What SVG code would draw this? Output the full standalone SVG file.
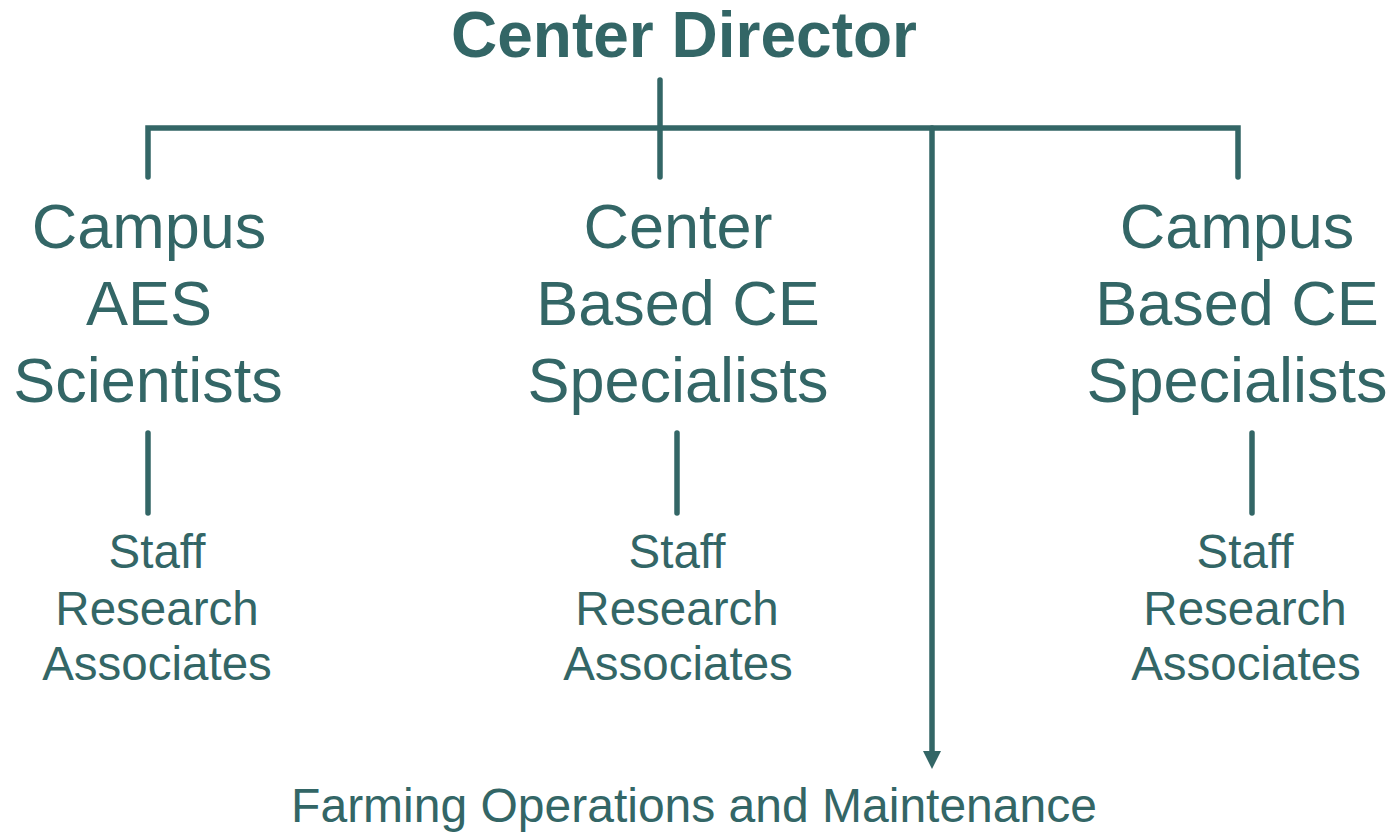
<svg xmlns="http://www.w3.org/2000/svg" width="1397" height="835" viewBox="0 0 1397 835">
<defs>
<style>
.t{font-family:"Liberation Sans",Arial,sans-serif;fill:#336666;text-anchor:middle}
.title{font-size:64px;font-weight:bold}
.big{font-size:63px}
.small{font-size:47.5px}
.foot{font-size:48px}
.ln{stroke:#336666;stroke-width:5.5;fill:none;stroke-linecap:round;stroke-linejoin:miter}
</style>
<marker id="ah" markerUnits="userSpaceOnUse" markerWidth="20" markerHeight="20" viewBox="0 0 20 20" refX="0" refY="10" orient="auto">
<path d="M0,1 L18,10 L0,19 Z" fill="#336666"/>
</marker>
</defs>
<rect width="1397" height="835" fill="#ffffff"/>
<g id="connectors">
<path class="ln" d="M660,80 V177"/>
<path class="ln" d="M148,177 V128 H1238 V177"/>
<path class="ln" d="M932,128 V751" stroke-linecap="butt" marker-end="url(#ah)"/>
<path class="ln" d="M148,433 V513"/>
<path class="ln" d="M677,433 V513"/>
<path class="ln" d="M1252,433 V513"/>
</g>
<g id="center-director"><text class="t title" x="684" y="57">Center Director</text></g>
<g id="campus-aes">
<text class="t big" x="149" y="248">Campus</text>
<text class="t big" x="149" y="325">AES</text>
<text class="t big" x="148" y="402">Scientists</text>
</g>
<g id="center-ce">
<text class="t big" x="678" y="248">Center</text>
<text class="t big" x="678" y="325">Based CE</text>
<text class="t big" x="678" y="402">Specialists</text>
</g>
<g id="campus-ce">
<text class="t big" x="1237" y="248">Campus</text>
<text class="t big" x="1237" y="325">Based CE</text>
<text class="t big" x="1237" y="402">Specialists</text>
</g>
<g id="staff-1">
<text class="t small" x="157" y="568">Staff</text>
<text class="t small" x="157" y="625">Research</text>
<text class="t small" x="157" y="680">Associates</text>
</g>
<g id="staff-2">
<text class="t small" x="677" y="568">Staff</text>
<text class="t small" x="677" y="625">Research</text>
<text class="t small" x="678" y="680">Associates</text>
</g>
<g id="staff-3">
<text class="t small" x="1245" y="568">Staff</text>
<text class="t small" x="1245" y="625">Research</text>
<text class="t small" x="1246" y="680">Associates</text>
</g>
<g id="farming"><text class="t foot" x="694" y="822">Farming Operations and Maintenance</text></g>
</svg>
